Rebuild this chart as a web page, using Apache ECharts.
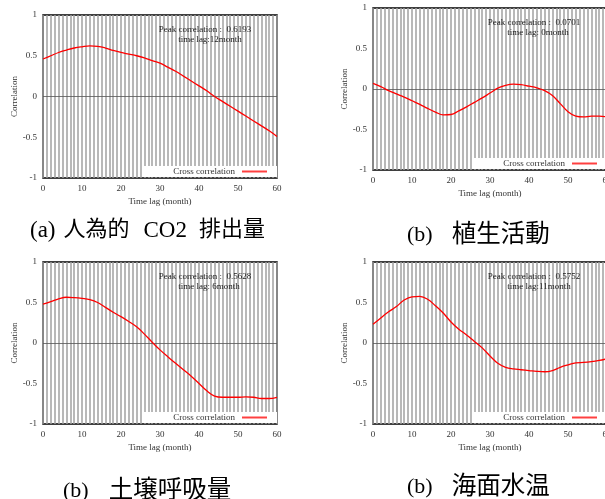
<!DOCTYPE html>
<html>
<head>
<meta charset="utf-8">
<script src="https://cdn.jsdelivr.net/npm/echarts@6/dist/echarts.min.js"></script>
<style>
html,body{margin:0;padding:0;background:#fff;}
#chart{width:605px;height:499px;}
</style>
</head>
<body>
<div id="chart"></div>
<script>
// ---- data ----
const lags = [0,2,4,6,8,10,12,14,16,18,20,22,24,26,28,30,32,34,36,38,40,42,44,46,48,50,52,54,56,58,60];
const co2 = [0.46,0.50,0.54,0.57,0.595,0.61,0.62,0.615,0.595,0.565,0.54,0.52,0.50,0.475,0.44,0.41,0.36,0.31,0.25,0.19,0.13,0.07,0.0,-0.06,-0.12,-0.18,-0.24,-0.30,-0.36,-0.42,-0.49];
const vegetation = [0.07,0.03,-0.02,-0.06,-0.10,-0.145,-0.19,-0.24,-0.285,-0.32,-0.315,-0.27,-0.22,-0.165,-0.11,-0.05,0.01,0.045,0.06,0.055,0.035,0.015,-0.02,-0.08,-0.18,-0.28,-0.335,-0.345,-0.335,-0.335,-0.345];
const soil = [0.48,0.51,0.545,0.565,0.56,0.55,0.535,0.50,0.44,0.38,0.325,0.265,0.20,0.11,0.01,-0.085,-0.17,-0.25,-0.33,-0.41,-0.50,-0.59,-0.655,-0.67,-0.67,-0.67,-0.665,-0.67,-0.685,-0.685,-0.67];
const sst = [0.23,0.31,0.385,0.45,0.53,0.57,0.575,0.54,0.46,0.37,0.26,0.17,0.10,0.02,-0.06,-0.16,-0.25,-0.30,-0.32,-0.33,-0.34,-0.35,-0.355,-0.34,-0.30,-0.27,-0.245,-0.24,-0.23,-0.215,-0.195];
const panelSeries = [co2, vegetation, soil, sst];
const captions = ['(a) 人為的 CO2 排出量', '(b) 植生活動', '(b) 土壌呼吸量', '(b) 海面水温'];
const peakValues = ['0.6193', '0.0701', '0.5628', '0.5752'];
const peakLags = ['time lag:12month', 'time lag: 0month', 'time lag: 6month', 'time lag:11month'];
const yTicks = [-1, -0.5, 0, 0.5, 1];
const xTicks = [0, 10, 20, 30, 40, 50, 60];
const seriesName = 'Cross correlation';
const xName = 'Time lag (month)';
const yName = 'Correlation';

// ---- layout ----
const serif = "'Liberation Serif', 'Times New Roman', serif";
const cjk = "'Noto Sans CJK JP', 'Noto Sans CJK SC', sans-serif";
const grids = [
  {left: 43, top: 15, width: 234, height: 163},
  {left: 373, top: 8, width: 234, height: 162},
  {left: 43, top: 262, width: 234, height: 162},
  {left: 373, top: 262, width: 234, height: 162}
];
const legendPos = [
  {right: 328, bottom: 322},
  {right: -2, bottom: 330},
  {right: 328, bottom: 76},
  {right: -2, bottom: 76}
];
const annPos = [
  {cx: 205, y1: 30, cx2: 210, y2: 40},
  {cx: 534, y1: 23, cx2: 538, y2: 33},
  {cx: 205, y1: 277, cx2: 209, y2: 287},
  {cx: 534, y1: 277, cx2: 539, y2: 287}
];
// caption: left x, center y, latin size, cjk size, gaps before each following part
const capPos = [
  {x: 30, y: 228, ls: 23, cs: 22, gaps: [8, 14, 12]},
  {x: 407, y: 233, ls: 22, cs: 24.5, gaps: [19]},
  {x: 63, y: 489, ls: 22, cs: 24.5, gaps: [20]},
  {x: 407, y: 485, ls: 22, cs: 24.5, gaps: [19]}
];

const option = {
  animation: false,
  backgroundColor: '#fff',
  grid: grids.map(g => Object.assign({show: true, borderColor: '#000', borderWidth: 1.5, backgroundColor: 'transparent', containLabel: false, outerBoundsMode: 'none'}, g)),
  xAxis: grids.map((g, i) => ({
    type: 'value', gridIndex: i, min: 0, max: 60, interval: 1,
    name: xName, nameLocation: 'middle', nameGap: 19,
    nameTextStyle: {fontFamily: serif, fontSize: 9, color: '#333'},
    axisLine: {show: false},
    axisTick: {show: false},
    axisLabel: {
      fontFamily: serif, fontSize: 9, color: '#333', margin: 6,
      showMinLabel: true, showMaxLabel: true,
      formatter: v => (xTicks.indexOf(v) >= 0 ? String(v) : '')
    },
    splitLine: {show: true, lineStyle: {color: '#a0a0a0', width: 1.5}}
  })),
  yAxis: grids.map((g, i) => ({
    type: 'value', gridIndex: i, min: yTicks[0], max: yTicks[yTicks.length - 1], interval: 0.5,
    name: yName, nameLocation: 'middle', nameGap: 24, nameRotate: 90,
    nameTextStyle: {fontFamily: serif, fontSize: 9, color: '#333'},
    axisLine: {show: false},
    axisTick: {show: false},
    axisLabel: {fontFamily: serif, fontSize: 9, color: '#333', margin: 6},
    splitLine: {show: false}
  })),
  legend: grids.map((g, i) => Object.assign({
    data: [{name: seriesName, icon: 'rect'}],
    align: 'right',
    orient: 'horizontal',
    itemWidth: 25, itemHeight: 2, itemGap: 0,
    backgroundColor: '#fff',
    padding: [1, 10, 1, 31],
    textStyle: {fontFamily: serif, fontSize: 9, color: '#333', padding: [0, 2, 0, 0]},
    selectedMode: false
  }, legendPos[i])),
  series: panelSeries.map((vals, i) => ({
    name: seriesName,
    type: 'line',
    xAxisIndex: i, yAxisIndex: i,
    data: lags.map((x, k) => [x, vals[k]]),
    smooth: 0.4,
    showSymbol: false,
    symbol: 'none',
    lineStyle: {color: '#ff0000', width: 1.3},
    itemStyle: {color: '#ff4040'},
    z: 5,
    markLine: {
      silent: true, symbol: 'none', label: {show: false},
      lineStyle: {color: '#555', width: 0.8, type: 'solid'},
      data: [{yAxis: 0}]
    }
  })),
  graphic: []
};

annPos.forEach((p, i) => {
  option.graphic.push({
    type: 'text', x: p.cx, y: p.y1, z: 100,
    style: {text: 'Peak correlation :  ' + peakValues[i], font: '9px ' + serif, fill: '#222', align: 'center', verticalAlign: 'middle'}
  });
  option.graphic.push({
    type: 'text', x: p.cx2, y: p.y2, z: 100,
    style: {text: peakLags[i], font: '9px ' + serif, fill: '#222', align: 'center', verticalAlign: 'middle'}
  });
});
capPos.forEach((p, i) => {
  const parts = captions[i].split(' ');
  const rich = {};
  let text = '';
  parts.forEach((part, k) => {
    const isCjk = /[\u3000-\u9fff]/.test(part);
    const key = 's' + k;
    rich[key] = {
      fontFamily: isCjk ? cjk : serif,
      fontSize: isCjk ? p.cs : p.ls,
      fill: '#000',
      padding: [isCjk ? 0 : 5, 0, 0, k === 0 ? 0 : p.gaps[k - 1]]
    };
    text += '{' + key + '|' + part + '}';
  });
  option.graphic.push({
    type: 'text', x: p.x, y: p.y, z: 100,
    style: {text: text, rich: rich, fill: '#000', align: 'left', verticalAlign: 'middle'}
  });
});

const chart = echarts.init(document.getElementById('chart'), null, {renderer: 'canvas'});
chart.setOption(option);
</script>
</body>
</html>
